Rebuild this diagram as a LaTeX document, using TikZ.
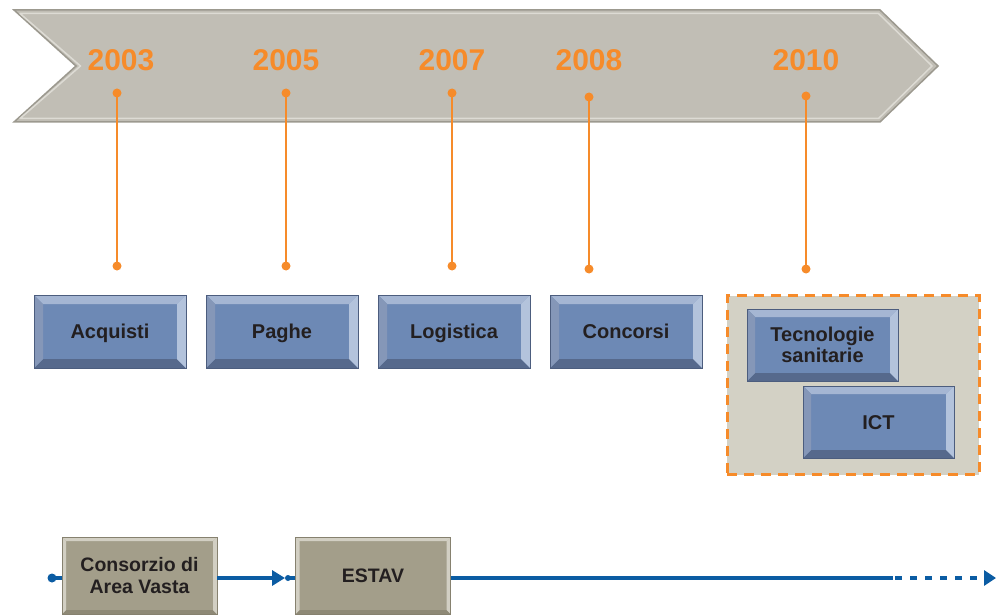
\documentclass[tikz,border=0pt]{standalone}
\usepackage{fontspec}
\setmainfont{Liberation Sans}
\usetikzlibrary{arrows.meta}
\definecolor{bannerfill}{HTML}{C1BEB5}
\definecolor{banneredge}{HTML}{9C998F}
\definecolor{bannerhi}{HTML}{DDDBD4}
\definecolor{yearorange}{HTML}{F68B2A}
\definecolor{boxblue}{HTML}{6D89B5}
\definecolor{boxedge}{HTML}{4C5D7E}
\definecolor{bvtop}{HTML}{A5B6D3}
\definecolor{bvleft}{HTML}{8597B8}
\definecolor{bvright}{HTML}{B3C3DC}
\definecolor{bvbottom}{HTML}{56698C}
\definecolor{txt}{HTML}{231F20}
\definecolor{groupfill}{HTML}{D3D1C5}
\definecolor{taupe}{HTML}{A39E8A}
\definecolor{taupeedge}{HTML}{86816F}
\definecolor{taupehi}{HTML}{D2CFC3}
\definecolor{taupelo}{HTML}{8E8976}
\definecolor{lineblue}{HTML}{0B5CA3}
\tikzset{
  x=1pt, y=-1pt,
  bevelled/.style n args={5}{path picture={
    \path (path picture bounding box.north west) coordinate (pnw)
          (path picture bounding box.north east) coordinate (pne)
          (path picture bounding box.south west) coordinate (psw)
          (path picture bounding box.south east) coordinate (pse);
    \fill[#2] (pnw) -- (pne) -- ([shift={(-#1,-#1)}]pne) -- ([shift={(#1,-#1)}]pnw) -- cycle;
    \fill[#5] (psw) -- (pse) -- ([shift={(-#1,#1)}]pse) -- ([shift={(#1,#1)}]psw) -- cycle;
    \fill[#3] (pnw) -- ([shift={(#1,-#1)}]pnw) -- ([shift={(#1,#1)}]psw) -- (psw) -- cycle;
    \fill[#4] (pne) -- ([shift={(-#1,-#1)}]pne) -- ([shift={(-#1,#1)}]pse) -- (pse) -- cycle;
  }},
  bluebox/.style={minimum width=152pt, minimum height=73pt, inner sep=0pt,
    fill=boxblue, draw=boxedge, line width=0.7pt, text=txt, align=center,
    font=\fontsize{20}{21}\selectfont\bfseries,
    bevelled={9pt}{bvtop}{bvleft}{bvright}{bvbottom}},
  oneline/.style={text height=14.5pt, text depth=0pt},
  taupebox/.style={minimum width=155pt, minimum height=77pt, inner sep=0pt,
    fill=taupe, draw=taupeedge, line width=0.7pt, text=txt, align=center,
    font=\fontsize{19.5}{22}\selectfont\bfseries,
    bevelled={4pt}{taupehi}{taupehi}{taupehi}{taupelo}},
  year/.style={text=yearorange, font=\fontsize{30}{30}\selectfont\bfseries, inner sep=0pt},
  tick/.style={draw=yearorange, line width=2pt},
  tickdot/.style={fill=yearorange},
  timeline/.style={draw=lineblue, line width=4.5pt},
}
\begin{document}
\begin{tikzpicture}
\useasboundingbox (0,0) rectangle (996,615);
% banner
\fill[bannerfill, draw=banneredge, line width=1.5pt]
  (14,10) -- (880,10) -- (938,66) -- (880,122) -- (14,122) -- (76,66) -- cycle;
\draw[bannerhi, line width=1.5pt, line join=round]
  (20,13.5) -- (878.5,13.5) -- (932,66) -- (878.5,118.5) -- (20,118.5) -- (80.5,66) -- cycle;
% years
\node[year] (y2003) at (121,60) {2003};
\node[year] (y2005) at (286,60) {2005};
\node[year] (y2007) at (452,60) {2007};
\node[year] (y2008) at (589,60) {2008};
\node[year] (y2010) at (806,60) {2010};
% ticks
\foreach \nm/\x/\ya/\yb in {a/117/93/266, b/286/93/266, c/452/93/266, d/589/97/269, e/806/96/269}{
  \coordinate (t\nm1) at (\x,\ya);
  \coordinate (t\nm2) at (\x,\yb);
  \draw[tick] (t\nm1) -- (t\nm2);
  \fill[tickdot] (t\nm1) circle (4.5pt);
  \fill[tickdot] (t\nm2) circle (4.5pt);
}
% boxes
\node[bluebox, oneline] (acq) at (110,331.5) {Acquisti};
\node[bluebox, oneline] (pag) at (282,331.5) {Paghe};
\node[bluebox, oneline] (log) at (454,331.5) {Logistica};
\node[bluebox, oneline] (con) at (626,331.5) {Concorsi};
% group
\node[fill=groupfill, draw=yearorange, line width=3pt, dash pattern=on 10pt off 7pt,
  minimum width=252pt, minimum height=179pt, inner sep=0pt] (grp) at (853,385) {};
\node[bluebox, minimum width=151pt, minimum height=72pt,
  bevelled={8pt}{bvtop}{bvleft}{bvright}{bvbottom}] (tec) at (822.5,345) {Tecnologie\\sanitarie};
\node[bluebox, oneline, minimum width=151pt, minimum height=72pt,
  bevelled={8pt}{bvtop}{bvleft}{bvright}{bvbottom}] (ict) at (878.5,422) {ICT};
% bottom timeline
\coordinate (start) at (52,578);
\coordinate (arrtip) at (285,578);
\coordinate (smalldot) at (288,578);
\coordinate (solidend) at (893,578);
\coordinate (lineend) at (996,578);
\node[taupebox] (cav) at (139.5,575.5) {Consorzio di\\Area Vasta};
\node[taupebox, oneline] (estav) at (373,575.5) {ESTAV};
\draw[timeline] (start) -- (cav.west |- start);
\fill[lineblue] (start) circle (4.5pt);
\draw[timeline, -{Triangle[length=13pt, width=15pt]}] (cav.east |- start) -- (arrtip);
\fill[lineblue] (smalldot) circle (3pt);
\draw[timeline] (smalldot) -- (estav.west |- start);
\draw[timeline] (estav.east |- start) -- (solidend);
\draw[timeline, dash pattern=on 7pt off 8pt, -{Triangle[length=12pt, width=15pt]}] ([xshift=2pt]solidend) -- (lineend);
\end{tikzpicture}
\end{document}
